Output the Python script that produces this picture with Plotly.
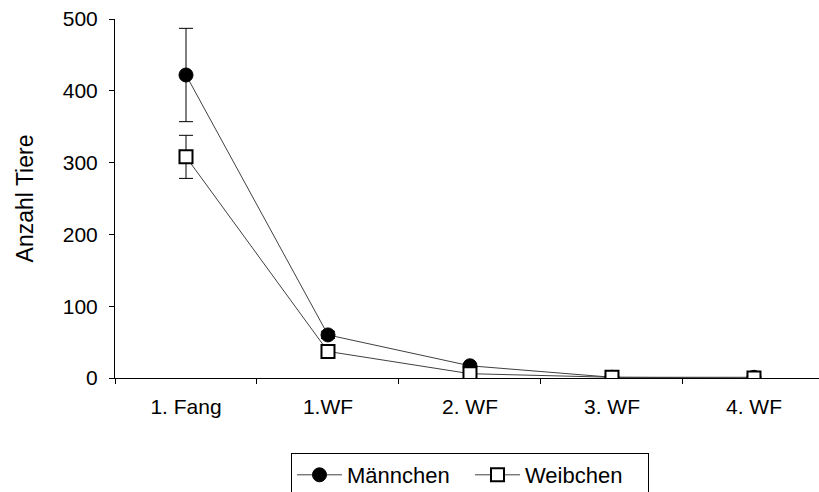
import plotly.graph_objects as go

categories = ["1. Fang", "1.WF", "2. WF", "3. WF", "4. WF"]
maennchen = [422, 60, 17, 1, 1]
maennchen_err = [65, 5, 3, 1, 1]
weibchen = [308, 37, 6, 1, 0]
weibchen_err = [30, 3, 2, 1, 0]

font = "Liberation Sans, Arial, sans-serif"

fig = go.Figure()
fig.add_trace(go.Scatter(
    x=categories, y=maennchen, name="Männchen", mode="lines+markers",
    line=dict(color="#404040", width=1),
    marker=dict(symbol="circle", size=14, color="black", line=dict(color="black", width=1)),
    error_y=dict(type="data", array=maennchen_err, visible=True, color="black", thickness=1, width=7),
))
fig.add_trace(go.Scatter(
    x=categories, y=weibchen, name="Weibchen", mode="lines+markers",
    line=dict(color="#404040", width=1),
    marker=dict(symbol="square", size=13, color="white", line=dict(color="black", width=2)),
    error_y=dict(type="data", array=weibchen_err, visible=True, color="black", thickness=1, width=7),
))

fig.update_layout(
    width=819, height=492,
    margin=dict(l=115, r=0, t=19, b=114),
    paper_bgcolor="white", plot_bgcolor="white",
    font=dict(family=font, size=21, color="black"),
    showlegend=True,
    legend=dict(
        orientation="h", xref="container", yref="container",
        x=291/819, xanchor="left", y=1-453/492, yanchor="top",
        bordercolor="black", borderwidth=1, bgcolor="white",
        font=dict(family=font, size=22, color="black"),
        itemwidth=45, entrywidth=118, tracegroupgap=0,
    ),
)
fig.update_xaxes(
    type="category", range=[-0.5, 4.458],
    showline=True, linecolor="black", linewidth=1,
    ticks="outside", tickson="boundaries", ticklen=5, tickcolor="black",
    showgrid=False, zeroline=False, ticklabelstandoff=10,
    tickfont=dict(family=font, size=21, color="black"),
)
fig.update_yaxes(
    range=[0, 500], dtick=100, tick0=0,
    showline=True, linecolor="black", linewidth=1,
    ticks="outside", ticklen=5, tickcolor="black",
    showgrid=False, zeroline=False, ticklabelstandoff=7,
    title=dict(text="Anzahl Tiere", font=dict(family=font, size=23, color="black"), standoff=22),
    tickfont=dict(family=font, size=21, color="black"),
)

fig.write_html("out.html")
